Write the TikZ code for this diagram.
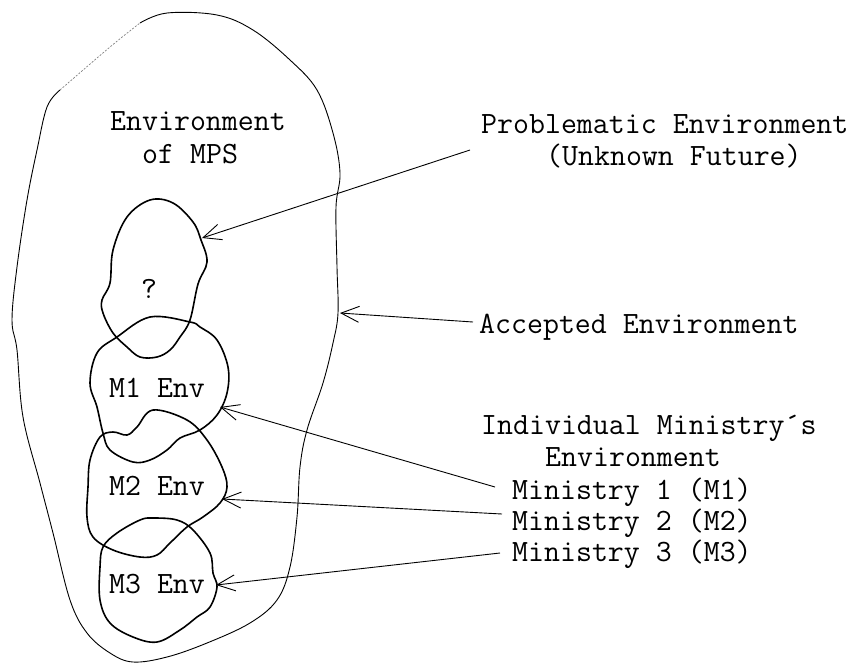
\documentclass[tikz,border=0pt]{standalone}
\usetikzlibrary{arrows.meta}
\begin{document}
\begin{tikzpicture}[x=1pt,y=-1pt,
  lbl/.style={font=\ttfamily\fontsize{31}{32}\selectfont, inner sep=0pt, anchor=base west},
  clbl/.style={font=\ttfamily\fontsize{31}{32}\selectfont, inner sep=0pt, anchor=base},
  outline/.style={line width=0.9pt},
  faint/.style={line width=0.7pt, gray, dash pattern=on 2pt off 1.5pt},
  blob/.style={line width=1.6pt},
  arr/.style={line width=0.9pt, -{Straight Barb[length=18pt,width=16pt,line width=0.9pt]}}]
\useasboundingbox (0,0) rectangle (861,665);

% outer blob (accepted environment)
\draw[outline] plot[smooth, tension=0.6] coordinates {
 (140,23) (167,13) (217,15) (253,30) (290,60) (317,90) (333,133) (340,173)
 (336,207) (337,267) (338,313) (333,343) (323,383) (307,430) (300,467)
 (297,517) (290,567) (277,600) (250,623) (207,643) (167,657) (133,662)
 (110,653) (87,633) (70,600) (53,533) (40,483) (23,417) (17,350) (12,320)
 (17,267) (27,200) (37,150) (47,107) (60,90)};
\draw[faint] plot[smooth, tension=0.6] coordinates {(60,90) (110,47) (140,23)};

% problematic blob
\draw[blob] plot[smooth cycle, tension=0.6] coordinates {
 (150,200) (173,203) (193,222) (201,240) (207,262) (198,284) (190,320)
 (180,337) (170,350) (157,357) (140,357) (127,347) (113,333) (103,313)
 (102,300) (110,283) (113,250) (127,217)};

% M1 blob
\draw[blob] plot[smooth cycle, tension=0.6] coordinates {
 (150,317) (190,322) (200,327) (217,340) (228,367) (227,393) (217,415)
 (200,430) (180,438) (167,450) (150,460) (133,462) (110,450) (103,433)
 (97,407) (90,383) (97,353) (117,337)};

% M2 blob
\draw[blob] plot[smooth cycle, tension=0.6] coordinates {
 (153,410) (187,420) (207,440) (222,467) (227,487) (220,503) (203,517)
 (187,527) (170,543) (157,555) (140,557) (113,550) (93,537) (87,517)
 (88,487) (90,460) (100,437) (113,432) (127,435) (137,427)};

% M3 blob
\draw[blob] plot[smooth cycle, tension=0.6] coordinates {
 (153,518) (177,520) (193,530) (210,553) (213,573) (217,587) (210,607)
 (197,617) (180,630) (157,642) (133,637) (110,623) (100,600) (100,567)
 (103,547) (117,533) (140,520)};

% inner labels
\node[lbl] (envA) at (110,130) {Environment};
\node[lbl] (envB) at (142,163) {of MPS};
\node[clbl] (q) at (149,298) {?};
\node[clbl] (m1) at (157,397) {M1 Env};
\node[clbl] (m2) at (157,495) {M2 Env};
\node[clbl] (m3) at (157,593) {M3 Env};

% right labels
\node[lbl] (probA) at (481,133) {Problematic Environment};
\node[lbl] (probB) at (546,165) {(Unknown Future)};
\node[lbl] (acc) at (479,333) {Accepted Environment};
\node[lbl] (indA) at (481,434) {Individual Ministry´s};
\node[lbl] (indB) at (545,466) {Environment};
\node[lbl] (min1) at (512,499) {Ministry 1 (M1)};
\node[lbl] (min2) at (512,530) {Ministry 2 (M2)};
\node[lbl] (min3) at (512,561) {Ministry 3 (M3)};

% connector ends
\coordinate (sP) at (470,150);
\coordinate (tP) at (202,238);
\coordinate (sA) at (473,322);
\coordinate (tA) at (340,313);
\coordinate (s1) at (495,487);
\coordinate (t1) at (220,407);
\coordinate (s2) at (502,514);
\coordinate (t2) at (222,499);
\coordinate (s3) at (500,553);
\coordinate (t3) at (216,585);

\draw[arr] (sP) -- (tP);
\draw[arr] (sA) -- (tA);
\draw[arr] (s1) -- (t1);
\draw[arr] (s2) -- (t2);
\draw[arr] (s3) -- (t3);
\end{tikzpicture}
\end{document}
